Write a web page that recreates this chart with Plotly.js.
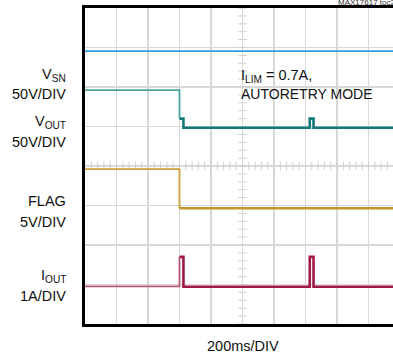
<!DOCTYPE html>
<html>
<head>
<meta charset="utf-8">
<script src="https://cdn.plot.ly/plotly-3.0.1.min.js"></script>
<style>
html,body{margin:0;padding:0;overflow:hidden;background:#fff;width:393px;height:358px;}
#chart{width:410px;height:358px;}
</style>
</head>
<body>
<div id="chart"></div>
<script>
// Time in ms (200 ms/DIV), levels in screen divisions (0 = bottom, 8 = top)
var vsnT = [0, 2000];
var vsnV = [6.91, 6.91];

var voutT = [0, 600, 625, 1427, 1451, 2000];
var voutV = [5.92, 5.20, 4.97, 5.20, 4.97, 4.97];

var flagT = [0, 600, 2000];
var flagV = [3.92, 2.93, 2.93];

var ioutT = [0, 600, 625, 1427, 1451, 2000];
var ioutV = [0.954, 1.70, 0.944, 1.70, 0.944, 0.944];

// center-axis minor tick positions
var minorX = [], minorY = [];
for (var i = 0; i <= 50; i++) { minorX.push(i * 40); }
for (var j = 0; j <= 40; j++) { minorY.push(j * 0.2); }

var traces = [
  {x: minorX, y: minorX.map(function(){return 4;}), mode: 'markers',
   marker: {symbol: 'line-ns', size: 6, line: {width: 1, color: '#cfcfcf'}}, hoverinfo: 'skip'},
  {x: minorY.map(function(){return 1000;}), y: minorY, mode: 'markers',
   marker: {symbol: 'line-ew', size: 6, line: {width: 1, color: '#cfcfcf'}}, hoverinfo: 'skip'},
  {x: vsnT, y: vsnV, mode: 'lines', line: {color: '#2f9fd6', width: 1.8}},
  {x: voutT.slice(0, 2), y: voutV.slice(0, 2), mode: 'lines', line: {color: '#4aa39e', width: 1.8, shape: 'hv'}},
  {x: voutT.slice(1), y: voutV.slice(1), mode: 'lines', line: {color: '#127a76', width: 2.6, shape: 'hv'}},
  {x: flagT.slice(0, 2), y: flagV.slice(0, 2), mode: 'lines', line: {color: '#c9a03a', width: 1.8, shape: 'hv'}},
  {x: flagT.slice(1), y: flagV.slice(1), mode: 'lines', line: {color: '#c0952a', width: 2.4, shape: 'hv'}},
  {x: ioutT.slice(0, 2), y: ioutV.slice(0, 2), mode: 'lines', line: {color: '#b5576f', width: 1.8, shape: 'hv'}},
  {x: ioutT.slice(1), y: ioutV.slice(1), mode: 'lines', line: {color: '#a01a45', width: 2.6, shape: 'hv'}}
];

var F = 'Liberation Sans, Arial, sans-serif';
function py(p) { return (324 - p) / 316; }
var lx = (68 - 85) / 315;
function lab(txt, y) {
  return {text: txt, xref: 'paper', yref: 'paper', x: lx, y: py(y), xanchor: 'right', yanchor: 'middle',
          showarrow: false, align: 'right', font: {family: F, size: 14.5, color: '#111'}};
}

var layout = {
  width: 410, height: 358,
  margin: {l: 85, r: 10, t: 8, b: 34},
  paper_bgcolor: '#fff', plot_bgcolor: '#fff',
  showlegend: false,
  xaxis: {range: [0, 2000], dtick: 200, tick0: 0, showgrid: true, gridcolor: '#d8d8d8', gridwidth: 1.5,
          zeroline: false, showticklabels: false, ticks: '', showline: true, mirror: true,
          linecolor: '#000', linewidth: 3, fixedrange: true},
  yaxis: {range: [0, 8], dtick: 1, tick0: 0, showgrid: true, gridcolor: '#d8d8d8', gridwidth: 1.5,
          zeroline: false, showticklabels: false, ticks: '', showline: true, mirror: true,
          linecolor: '#000', linewidth: 3, fixedrange: true},
  annotations: [
    lab('V<sub>SN</sub>', 75),
    lab('50V/DIV', 93.5),
    lab('V<sub>OUT</sub>', 122),
    lab('50V/DIV', 141.5),
    lab('FLAG', 201.5),
    lab('5V/DIV', 221.5),
    lab('I<sub>OUT</sub>', 276),
    lab('1A/DIV', 296),
    {text: 'I<sub>LIM</sub> = 0.7A,', xref: 'paper', yref: 'paper', x: (239 - 85) / 315, y: py(76),
     xanchor: 'left', yanchor: 'middle', showarrow: false, font: {family: F, size: 14.5, color: '#111'}},
    {text: 'AUTORETRY MODE', xref: 'paper', yref: 'paper', x: (239 - 85) / 315, y: py(94),
     xanchor: 'left', yanchor: 'middle', showarrow: false, font: {family: F, size: 14, color: '#111'}},
    {text: '200ms/DIV', xref: 'paper', yref: 'paper', x: 0.5, y: py(346),
     xanchor: 'center', yanchor: 'middle', showarrow: false, font: {family: F, size: 14.5, color: '#111'}},
    {text: 'MAX17617 toc21', xref: 'paper', yref: 'paper', x: (336 - 85) / 315, y: py(3),
     xanchor: 'left', yanchor: 'middle', showarrow: false, font: {family: F, size: 8, color: '#333'}}
  ]
};

Plotly.newPlot('chart', traces, layout, {staticPlot: true, displayModeBar: false});
</script>
</body>
</html>
